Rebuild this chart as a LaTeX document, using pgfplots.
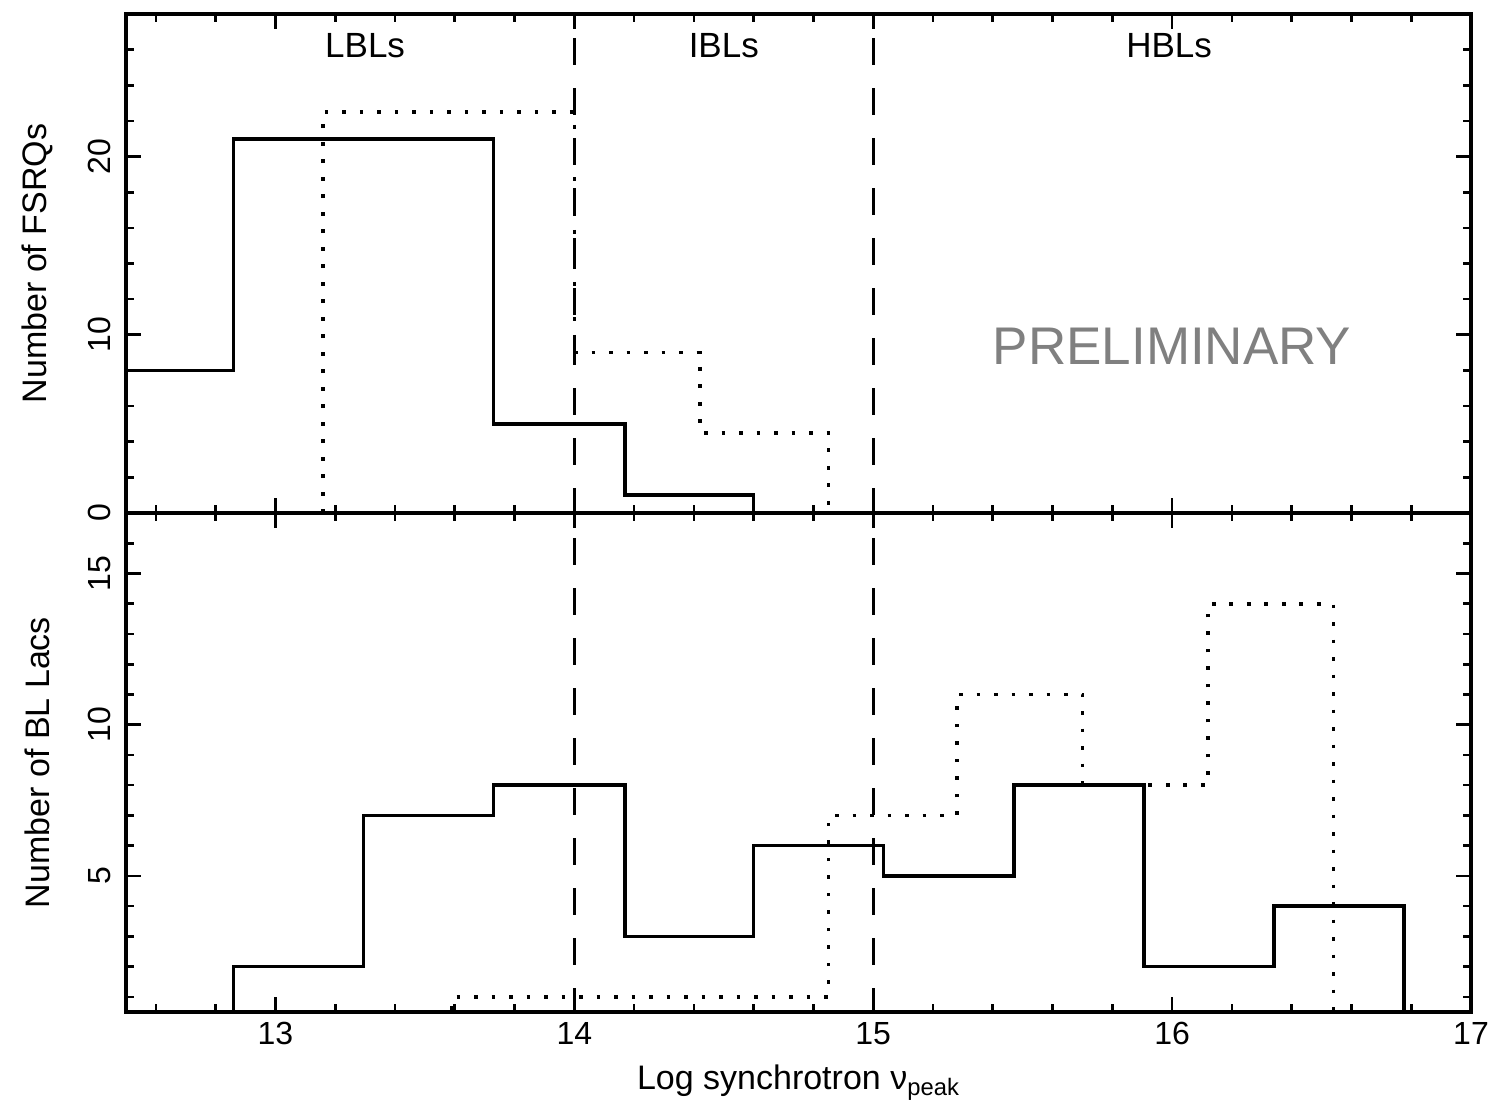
\documentclass[border=0pt]{standalone}
\usepackage{fontspec}
\setmainfont{Liberation Sans}
\usepackage{pgfplots}
\pgfplotsset{compat=1.18}
\begin{document}
\begin{tikzpicture}
\useasboundingbox (-63pt,7pt) rectangle (683pt,-544.5pt);
\pgfplotsset{
  base/.style={
    scale only axis, width=672.5pt, height=249.5pt,
    xmin=12.5, xmax=17,
    xtick={13,14,15,16,17},
    minor xtick={12.6,12.8,13.2,13.4,13.6,13.8,14.2,14.4,14.6,14.8,15.2,15.4,15.6,15.8,16.2,16.4,16.6,16.8},
    axis line style={line width=1.8pt},
    tick style={black, line width=1.3pt},
    major tick length=7.5pt, minor tick length=4pt,
    tick align=inside,
    /pgf/number format/assume math mode=true,
    tick label style={font=\fontsize{16}{19}\selectfont},
    label style={font=\fontsize{17}{20}\selectfont},
    yticklabel style={rotate=90, anchor=south},
    yticklabel shift=4pt,
    xticklabel shift=1.5pt,
    ylabel style={at={(axis description cs:-0.066,0.5)}, anchor=center},
    solid hist/.style={const plot, black, line width=1.8pt, mark=none},
    dot hist/.style={const plot, black, line width=1.8pt, mark=none, dash pattern=on 1.8pt off 6.95pt},
    vdash/.style={black, line width=1.6pt, dash pattern=on 13.5pt off 11.5pt},
  }
}
\begin{axis}[base, name=top, at={(0pt,0pt)}, anchor=north west,
  ymin=0, ymax=28, ytick={0,10,20}, minor ytick={2,4,6,8,12,14,16,18,22,24,26},
  xticklabel=\empty, ylabel={Number of FSRQs}]
  \addplot[vdash, dash phase=13pt] coordinates {(14,28) (14,0)};
  \addplot[vdash, dash phase=13pt] coordinates {(15,28) (15,0)};
  % FSRQs, solid
  \addplot[solid hist] coordinates {(12.40,8) (12.86,21) (13.73,5) (14.17,1) (14.60,0)};
  % FSRQs, dotted
  \addplot[dot hist] coordinates {(13.16,0) (13.16,22.5) (14.00,9) (14.42,4.5) (14.85,0)};
  \node[font=\fontsize{17.5}{20}\selectfont] at (axis cs:13.30,26.25) {LBLs};
  \node[font=\fontsize{17.5}{20}\selectfont] at (axis cs:14.50,26.25) {IBLs};
  \node[font=\fontsize{17.5}{20}\selectfont] at (axis cs:15.99,26.25) {HBLs};
  \node[font=\fontsize{26.5}{30}\selectfont, text=gray] at (axis cs:16.00,9.35) {PRELIMINARY};
\end{axis}
\begin{axis}[base, at={(top.south west)}, anchor=north west,
  ymin=0.5, ymax=17, ytick={5,10,15}, minor ytick={1,2,3,4,6,7,8,9,11,12,13,14,16,17},
  ylabel={Number of BL Lacs},
  xlabel={Log synchrotron ν\textsubscript{peak}},
  xlabel style={at={(axis description cs:0.5,-0.156)}, anchor=base}]
  \addplot[vdash, dash phase=12.5pt] coordinates {(14,17) (14,0.5)};
  \addplot[vdash, dash phase=12.5pt] coordinates {(15,17) (15,0.5)};
  % BL Lacs, solid
  \addplot[solid hist] coordinates {(12.86,0) (12.86,2) (13.295,7) (13.73,8) (14.17,3) (14.60,6) (15.035,5) (15.47,8) (15.905,2) (16.34,4) (16.775,0)};
  % BL Lacs, dotted
  \addplot[dot hist] coordinates {(13.59,0) (13.59,1) (14.85,7) (15.28,11) (15.70,8) (16.12,14) (16.54,0)};
\end{axis}
\end{tikzpicture}
\end{document}
